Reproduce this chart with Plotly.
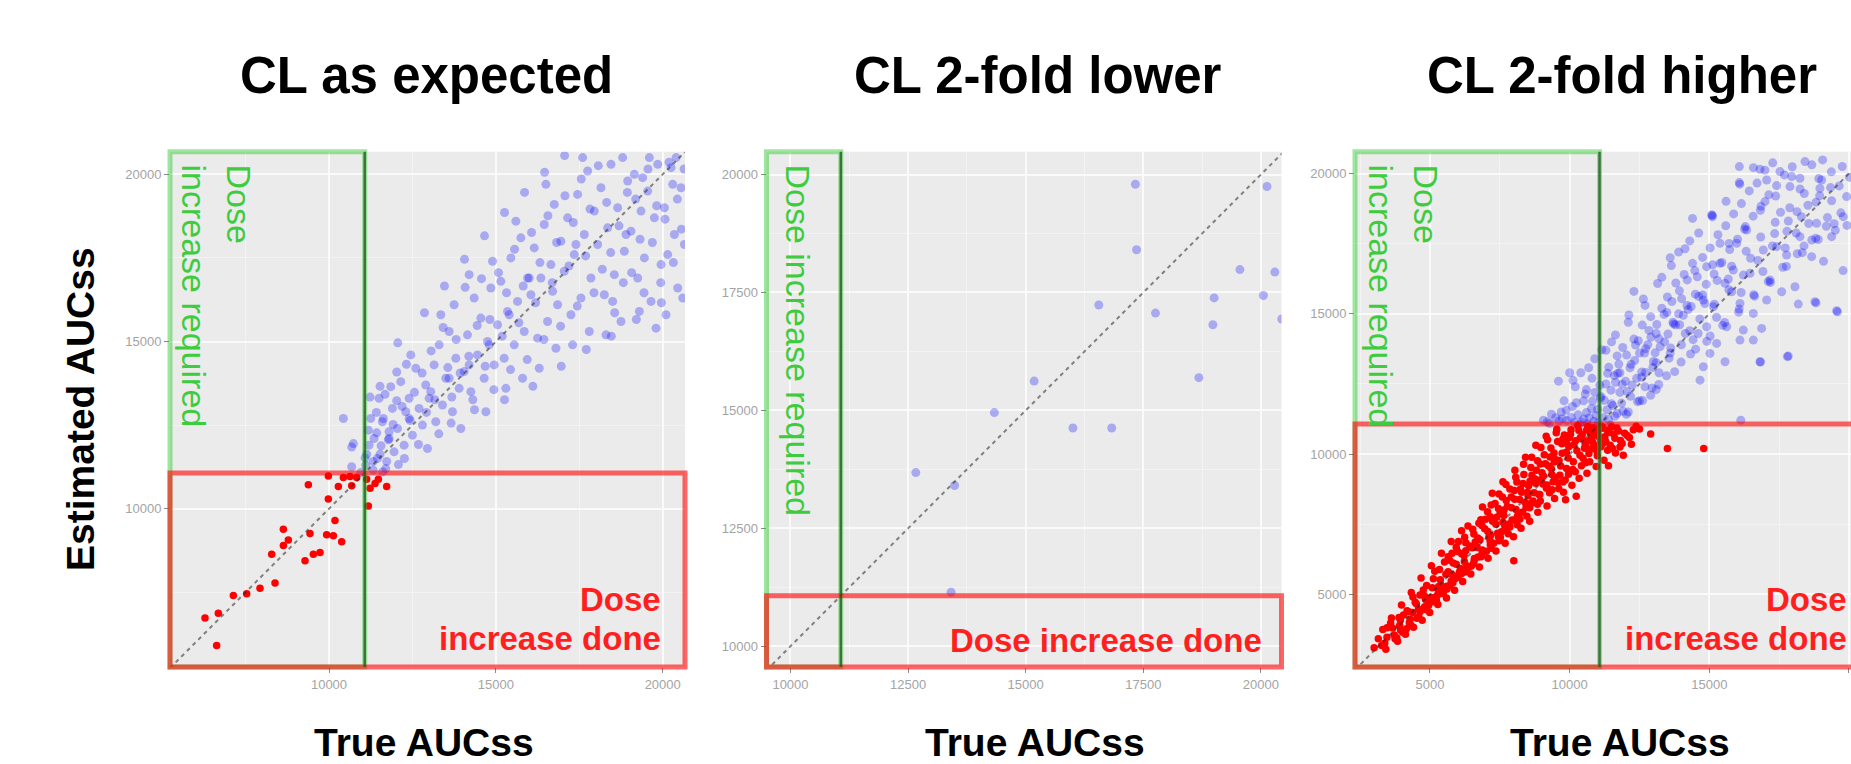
import plotly.graph_objects as go

W, H = 1851, 764
THRESHOLD = 11070

# ---------------- data ----------------
# Panel 1: CL as expected -- (true AUCss, estimated AUCss)
p1_red_points = [
    (9980, 10980), (9381, 10719), (10430, 10933), (10630, 10965), (10830, 10933), (10280, 10666), (10680, 10687),
    (11129, 10880), (11229, 10612), (11379, 10751), (11479, 10880), (11728, 10666), (11179, 10078), (9980, 10292),
    (10180, 9650), (8632, 9383), (9431, 9255), (9930, 9223), (10130, 9190), (10380, 9009), (8781, 9062),
    (8632, 8902), (8282, 8635), (9730, 8688), (9531, 8635), (9281, 8442), (8382, 7779), (7932, 7619),
    (7533, 7459), (7133, 7405), (6683, 6871), (6284, 6732), (6633, 5909)]
p1_blue_points = [
    (10430, 12697), (10680, 11842), (11229, 13338), (11529, 13659), (12029, 14087), (11629, 12697), (11429, 12269),
    (10730, 11948), (11129, 11628), (11529, 11628), (11729, 11414), (11329, 11414), (10680, 11254), (12029, 13231),
    (11100, 11300), (11200, 11900), (11350, 12100), (11450, 11500), (11600, 12600), (11700, 11200), (11800, 12300),
    (11900, 13000), (11950, 11700), (11250, 12700), (11500, 13300), (11850, 13650), (12050, 12400), (12150, 13800),
    (12250, 11900), (12300, 12900), (12400, 13300), (12500, 12200), (12600, 14200), (12700, 13000), (12800, 12500),
    (12900, 13700), (12450, 14600), (12950, 11800), (13050, 13500), (13150, 14300), (13200, 12600), (13300, 14900),
    (13400, 13100), (13500, 13900), (13600, 15300), (13700, 12900), (13800, 14500), (13900, 13600), (13350, 15800),
    (13750, 16100), (13950, 12400), (14050, 14100), (14150, 15200), (14250, 13500), (14350, 16300), (14450, 14600),
    (14550, 15700), (14650, 13900), (14750, 15000), (14850, 16600), (14950, 14300), (14200, 17000), (14700, 12900),
    (14900, 17400), (15050, 15500), (15150, 16800), (15250, 14500), (15350, 15900), (15450, 17500), (15550, 14900),
    (15650, 16200), (15750, 18100), (15850, 15300), (15950, 16900), (15300, 13600), (15800, 13900), (15600, 18600),
    (16050, 16400), (16150, 17800), (16250, 15100), (16350, 16900), (16450, 18500), (16550, 15600), (16650, 17300),
    (16750, 19100), (16850, 16100), (16950, 18000), (16300, 14200), (16800, 14800), (16500, 19700), (17050, 17100),
    (17150, 18700), (17250, 15800), (17350, 17600), (17450, 19400), (17550, 16300), (17650, 18200), (17750, 20100),
    (17850, 16900), (17950, 18900), (17300, 14900), (17800, 15300), (17600, 20500), (18050, 17900), (18150, 19600),
    (18250, 16400), (18350, 18400), (18450, 20300), (18550, 17000), (18650, 19000), (18750, 15600), (18850, 17700),
    (18950, 19800), (18300, 15200), (18800, 20500), (18500, 16200), (19050, 18300), (19150, 20000), (19250, 16900),
    (19350, 18900), (19450, 17500), (19550, 19500), (19650, 16200), (19750, 18700), (19850, 20300), (19950, 17300),
    (19300, 15900), (19800, 15400), (19600, 20500), (20050, 19000), (20150, 17600), (20250, 20200), (20350, 18200),
    (20450, 16600), (20550, 19600), (20650, 17900), (20100, 15800), (20400, 20500), (20600, 16300),
    (10950, 11080), (11080, 11520), (11180, 12350), (11320, 11160), (11420, 12880), (11560, 11880), (11680, 13420),
    (11780, 12060), (11920, 12520), (12080, 11320), (12190, 13060), (12320, 14320), (12430, 12640), (12560, 13480),
    (12680, 11920), (12790, 14060), (12920, 12880), (13060, 14720), (13170, 13260), (13290, 12240), (13420, 15420),
    (13560, 14220), (13680, 13340), (13810, 15060), (13930, 14060), (14080, 16620), (14190, 14560), (14310, 13260),
    (14440, 15480), (14570, 16880), (14680, 14260), (14820, 15660), (14940, 13560), (15080, 17060), (15190, 15160),
    (15320, 16460), (15440, 14160), (15560, 17760), (15690, 15560), (15820, 16660), (15940, 14460), (16070, 18260),
    (16190, 16160), (16320, 17360), (16440, 15060), (16560, 18760), (16690, 16760), (16820, 17960), (16940, 15460),
    (17070, 19360), (17190, 17260), (17320, 18560), (17440, 16060), (17560, 19860), (17690, 17560), (17820, 18960),
    (17940, 16460), (18070, 20260), (18190, 17160), (18320, 19160), (18440, 17660), (18560, 15860), (18690, 18460),
    (18820, 16760), (18940, 19460), (19070, 17060), (19190, 19260), (19320, 18060), (19440, 16460), (19560, 20160),
    (19690, 17960), (19820, 19060), (19940, 16760), (20070, 18660), (20190, 20360), (20320, 17360), (20440, 19260),
    (20560, 18360), (20640, 20160), (15260, 13260), (16110, 13660), (16960, 14260), (17710, 14760), (18460, 15160),
    (19210, 15660), (19960, 16160), (13660, 12560), (14360, 12960), (12060, 14960), (12860, 15860), (13460, 16660),
    (14060, 17460), (14660, 18160), (15260, 18860), (15860, 19460), (16460, 20060), (17060, 20560), (11610, 11100),
    (12260, 11500), (18900, 18200), (19400, 19900), (20300, 19700), (17400, 17900), (16700, 16500), (16000, 16900),
    (15400, 15800), (14800, 14900), (14200, 14300), (13600, 13900), (13000, 13300), (12400, 12700), (11800, 12100)]

# Panel 2: CL 2-fold lower
p2_blue_points = [
    (12664, 13682), (13488, 13408), (13414, 11147), (14334, 14954), (15180, 15621), (16004, 14627), (16829, 14627),
    (16554, 17236), (17332, 19796), (17357, 18406), (17759, 17063), (18681, 15695), (19006, 17385), (18979, 16815),
    (19554, 17985), (20053, 17437), (20129, 19747), (20296, 17933), (20444, 16939)]

# Panel 3: CL 2-fold higher
p3_red_points = [
    (3000, 3100), (3150, 3420), (3380, 3260), (3460, 3810), (3720, 3550), (3890, 4180), (3950, 3720), (4180, 4420),
    (4260, 3990), (4470, 4720), (4530, 4150), (4640, 4980), (4810, 4560), (4880, 5320), (5040, 4890), (5120, 5560),
    (5260, 5210), (5340, 5890), (5480, 5060), (5570, 5720), (5650, 6340), (5760, 5480), (5830, 6120), (5940, 6680),
    (6050, 5790), (6130, 6450), (6240, 7040), (6310, 6020), (6420, 6730), (6530, 7320), (6590, 6280), (6710, 7010),
    (6820, 7660), (6870, 6580), (6960, 7340), (7060, 7950), (7150, 6910), (7240, 7610), (7330, 8240), (7420, 7180),
    (7510, 7890), (7590, 8470), (7680, 7420), (7770, 8130), (7860, 8760), (7940, 7650), (8030, 8390), (8110, 9010),
    (8190, 7880), (8280, 8640), (8360, 9270), (8440, 8110), (8530, 8870), (8610, 9520), (8690, 8330), (8770, 9110),
    (8850, 9760), (8930, 8560), (9010, 9340), (9090, 9980), (9170, 8780), (9250, 9580), (9330, 10220), (9410, 9020),
    (9490, 9810), (9570, 10450), (9650, 9250), (9730, 10030), (9810, 10680), (9890, 9490), (9970, 10260),
    (10050, 10870), (10130, 9730), (10210, 10480), (10290, 11010), (10370, 9960), (10450, 10690), (10530, 10210),
    (10610, 10860), (10690, 10020), (10770, 10560), (10850, 10940), (10930, 10280), (11010, 10730), (11090, 10410),
    (11170, 10980), (11260, 10620), (11340, 10850), (11450, 10320), (11580, 10710), (11690, 10930), (11820, 10490),
    (12060, 10660), (12280, 10870), (12210, 10350), (11920, 9960), (11640, 10040), (11230, 9780), (10950, 9560),
    (10620, 9320), (10340, 9140), (10080, 8890), (9780, 8640), (9460, 8420), (9190, 8150), (8860, 7930), (8570, 7610),
    (8260, 7360), (7990, 7060), (7690, 6820), (7360, 6550), (7080, 6290), (6770, 5980), (6460, 5730), (6170, 5460),
    (5880, 5150), (5590, 4870), (5280, 4640), (4990, 4360), (4720, 4080), (4410, 3830), (4120, 3580), (3840, 3330),
    (6880, 8120), (7230, 8610), (7610, 9020), (8040, 9430), (8420, 9890), (8790, 10320), (9160, 10640), (9540, 10890),
    (6130, 7270), (5760, 6890), (5410, 6470), (5050, 6020), (4680, 5590), (4330, 5070), (3980, 4620), (3620, 4160),
    (3310, 3750), (9880, 10070), (10150, 10330), (10420, 10560), (9620, 9770), (9340, 9480), (9060, 9220),
    (8780, 8960), (8490, 8640), (8210, 8380), (7920, 8090), (7640, 7810), (7360, 7500), (7070, 7240), (6790, 6950),
    (6510, 6660), (6220, 6380), (5940, 6080), (5650, 5810), (5370, 5520), (5080, 5240), (4800, 4950), (4510, 4670),
    (4230, 4380), (3940, 4090), (3660, 3800), (11360, 10140), (11120, 10260), (10860, 10660), (10580, 10470),
    (10730, 10770), (11030, 10880), (11500, 10980), (9990, 10590), (9720, 10370), (9300, 9900), (8950, 9650),
    (8650, 9250), (8330, 8950), (8020, 8700), (7730, 8350), (7450, 8060), (7160, 7770), (6860, 7460), (6570, 7150),
    (6280, 6840), (5990, 6530), (5700, 6220), (9460, 9180), (9190, 8900), (8900, 8560), (8610, 8240), (8320, 7940),
    (8030, 7650), (7740, 7350), (7450, 7060), (7160, 6770), (6870, 6480), (6580, 6190), (6290, 5900), (6000, 5610),
    (5710, 5320), (5420, 5030), (5130, 4740), (12500, 10900), (13500, 10200), (14800, 10200), (8000, 6200),
    (9852, 8372), (10236, 8500), (11389, 9584), (12900, 10720), (11800, 10250),
    (3420, 3050), (3590, 3980), (3810, 3460), (4050, 4270), (4160, 3780), (4390, 4910), (4590, 4470), (4760, 5160),
    (4950, 4610), (5170, 5830), (5230, 4790), (5390, 5340), (5520, 6160), (5610, 5190), (5790, 6470), (5870, 5650),
    (6020, 6890), (6090, 5920), (6280, 6560), (6360, 7440), (6480, 6010), (6620, 6870), (6750, 7540), (6830, 6340),
    (6990, 7680), (7110, 7050), (7190, 8190), (7280, 6820), (7390, 7750), (7470, 8580), (7560, 7230), (7650, 8010),
    (7720, 8920), (7830, 7510), (7910, 8470), (8070, 9180), (8130, 7790), (8240, 8760), (8350, 9640), (8410, 8280),
    (8580, 9030), (8640, 9890), (8730, 8620), (8810, 9430), (8970, 10240), (9040, 8940), (9130, 9660), (9210, 10510),
    (9360, 9270), (9440, 10040), (9520, 10760), (9590, 8980), (9680, 9580), (9760, 10540), (9840, 9080), (9950, 9860),
    (10030, 10710), (10110, 9450), (10260, 10120), (10330, 10840), (10480, 9850), (10560, 10350), (10650, 10990),
    (10720, 9730), (10820, 10430), (10890, 10870), (10970, 10120), (11060, 10610), (11150, 10920), (11290, 10450),
    (11410, 10780), (11530, 10210), (11620, 10570), (11750, 10820), (11880, 10380), (12140, 10590), (12380, 10990),
    (11970, 10740), (10380, 10580), (9900, 10380), (9450, 9720), (8990, 9100), (8510, 8520), (8080, 8030),
    (7610, 7570), (7170, 7110), (6690, 6670), (6230, 6170), (5770, 5720), (5310, 5280), (4840, 4830), (4380, 4360),
    (3910, 3890), (3460, 3470), (10760, 10190), (10420, 9590), (9960, 9280), (9610, 8770), (9280, 8620), (8850, 8210),
    (8470, 7790), (8120, 7480), (7800, 7160), (7480, 6910), (7020, 6540), (6720, 6330), (6400, 5980), (6120, 5740),
    (5820, 5420), (5490, 5150), (5190, 4900), (4870, 4450), (4600, 4210), (4310, 3910), (4020, 3650), (3750, 3420),
    (3270, 3180), (11180, 10380), (10990, 9940), (10570, 9690), (10200, 9370), (9760, 9010), (9370, 8730),
    (8950, 8330), (8570, 8090), (8220, 7690), (7860, 7400), (7520, 7030), (7190, 6650), (6850, 6390), (6560, 6090),
    (6250, 5800), (5910, 5570), (5610, 5290), (5270, 4980), (4960, 4700), (4650, 4390), (4290, 4120)]
p3_blue_points = [
    (9200, 11150), (9500, 11300), (9700, 11500), (9900, 11200), (10100, 11700), (10300, 11400), (10500, 11900),
    (10700, 11300), (10900, 12200), (9800, 11900), (9600, 12600), (10200, 12400), (10400, 12900), (10600, 12300),
    (10800, 12700), (11000, 11600), (11100, 12000), (11200, 11300), (11300, 12500), (11400, 13100), (11500, 11800),
    (11600, 12800), (11700, 13500), (11800, 12200), (11900, 13800), (12000, 12600), (12100, 11500), (12200, 13200),
    (12300, 14100), (12400, 12700), (12500, 13600), (12600, 14600), (12700, 12400), (12800, 13900), (12900, 14900),
    (13000, 13300), (13100, 14300), (13200, 12900), (13300, 15200), (13400, 14000), (13500, 15600), (13600, 13600),
    (13700, 14700), (13800, 16100), (13900, 15000), (14000, 13900), (14100, 16400), (14200, 15300), (14300, 14400),
    (14400, 16800), (14500, 15700), (14600, 14300), (11500, 14000), (10900, 13400), (12100, 14700), (12700, 15300),
    (13300, 16300), (13900, 17200), (14300, 17600), (12300, 15800), (11800, 12900), (12500, 11900), (13100, 12300),
    (10000, 12900), (11300, 13700), (14400, 18400), (13600, 17000), (10500, 11250), (11700, 11450), (12900, 12100),
    (16075, 20247), (16814, 20152), (17530, 20069), (18425, 20425), (19057, 20485), (16075, 19676), (16993, 18999),
    (17053, 19771), (17888, 19534), (18246, 19831), (19021, 19771), (19916, 19177), (15085, 18523), (19797, 18464),
    (18843, 18226), (19379, 17750), (18664, 17037), (16337, 17988), (15383, 17512), (15980, 17512), (17411, 17393),
    (17769, 17096), (18246, 17750), (16933, 17274), (14905, 16680), (15383, 16799), (15860, 16561), (16456, 16442),
    (17172, 16204), (17590, 15788), (18067, 15966), (18783, 15432), (18186, 15348), (19558, 15110), (17053, 15491),
    (16576, 15015), (16098, 15372), (15562, 16086), (15800, 15788), (15144, 15253), (14786, 15491), (14905, 14540),
    (15621, 14540), (16218, 14421), (16874, 14480), (16098, 14064), (16576, 14064), (15264, 13945), (15025, 13589),
    (15562, 13291), (16814, 13291), (17828, 13494), (14786, 13113), (14667, 12637), (16128, 11210), (17794, 13476),
    (16833, 13285), (19587, 15072), (15104, 18516), (18819, 15390),
    (9350, 11420), (9620, 11180), (9880, 11560), (10060, 11310), (10240, 11830), (10420, 11140), (10560, 12140),
    (10780, 11620), (10950, 11380), (11080, 12460), (11240, 11920), (11360, 12880), (11480, 12280), (11620, 11350),
    (11760, 13210), (11880, 12490), (12040, 13530), (12180, 12060), (12330, 13340), (12460, 14040), (12580, 12930),
    (12720, 13760), (12840, 14410), (12980, 13090), (13120, 14620), (13240, 13830), (13380, 14980), (13520, 14280),
    (13660, 15440), (13790, 14610), (13930, 15820), (14070, 14950), (14210, 16210), (14350, 15260), (14480, 16540),
    (14620, 15620), (14760, 17010), (14890, 16050), (15030, 17350), (15170, 16420), (15310, 17820), (15450, 16830),
    (15590, 18140), (15730, 17290), (15870, 18560), (16010, 17660), (16150, 18930), (16290, 18110), (16430, 19380),
    (16570, 18480), (16710, 19660), (16850, 18830), (16990, 20120), (17130, 19240), (17270, 20380), (17410, 19570),
    (17550, 18620), (17690, 19950), (17830, 18310), (17970, 20240), (18110, 17880), (18250, 19450), (18390, 17420),
    (18530, 18870), (18670, 20310), (18810, 17690), (18950, 19210), (19090, 16870), (19230, 18430), (19370, 20060),
    (19510, 17980), (19650, 19560), (19790, 16540), (19930, 18150), (20020, 19870), (10120, 12630), (10680, 13080),
    (11150, 13720), (11640, 14250), (12120, 14960), (12640, 15530), (13150, 16080), (13640, 16720), (14130, 17320),
    (14620, 17880), (15110, 18460), (15600, 19010), (16090, 19620), (16580, 20210), (10350, 11060), (10870, 11170),
    (11390, 11240), (11910, 11530), (12430, 11870), (12950, 12360), (13470, 12790), (13990, 13280), (14510, 13740),
    (15030, 14210), (15550, 14690), (16070, 15170), (16590, 15680), (17110, 16150), (17630, 16660), (18150, 17140),
    (18670, 17630), (19190, 18120), (19710, 18600), (11020, 11120), (11540, 11730), (12060, 12230), (12580, 12740),
    (13100, 13260), (13620, 13780), (14140, 14300), (14660, 14820), (15180, 15340), (15700, 15860), (16220, 16380),
    (16740, 16900), (17260, 17420), (17780, 17940), (18300, 18460), (18820, 18980), (19340, 19500), (10600, 11480),
    (11120, 12050), (11640, 12560), (12160, 13080), (12680, 13600), (13200, 14110), (13720, 14640), (14240, 15150),
    (14760, 15670), (15280, 16190), (15800, 16700), (16320, 17230), (16840, 17740), (17360, 18260), (17880, 18780),
    (18400, 19290), (18920, 19820),
    (9060, 11210), (9280, 11090), (9740, 11260), (10170, 11140), (10630, 11070), (10820, 11890), (11340, 11580),
    (11860, 11820), (12240, 12460), (12720, 12910), (13060, 13610), (13560, 13420), (13940, 14610), (14420, 14080),
    (14840, 15370), (15260, 14880), (15680, 16240), (16140, 15760), (16480, 16980), (16920, 16510), (17340, 17860),
    (17720, 17350), (18140, 18640), (18560, 18220), (18960, 19470), (19380, 19030), (19760, 20250), (11720, 12880),
    (12360, 13890), (12910, 14170), (13480, 15050), (14010, 15540), (14570, 16320), (15120, 16750), (15710, 17510),
    (16260, 18020), (16830, 18690), (17380, 19200), (17950, 19890), (11460, 11040), (12030, 11420), (12610, 11910),
    (13190, 12480), (13760, 12940), (14330, 13570), (14910, 14020), (15480, 14590), (16050, 15060), (16620, 15630),
    (17190, 16120), (17760, 16690), (18330, 17180), (18900, 17650), (19470, 18210)]

titles = ["CL as expected", "CL 2-fold lower", "CL 2-fold higher"]
x_title = "True AUCss"
y_title = "Estimated AUCss"
green_texts = ["Dose<br>increase required", "Dose increase required", "Dose<br>increase required"]
red_text_lines = [["Dose", "increase done"], ["Dose increase done"], ["Dose", "increase done"]]

# axis ranges and tick steps
ranges = [
    dict(x=[5235, 20668], y=[5266, 20677], dtick=5000, minor=2500, xfull=20668),
    dict(x=[9490, 20438], y=[9560, 20485], dtick=2500, minor=1250, xfull=20438),
    dict(x=[2315, 20073], y=[2414, 20778], dtick=5000, minor=2500, xfull=20754),
]
# panel pixel geometry (left, right, top, bottom)
panels_px = [(170, 685, 151.7, 667), (766.5, 1281.5, 151.7, 667), (1355, 1851, 151.7, 667)]


def px_x(p):
    return p / W


def px_y(p):
    return 1 - p / H


def split(points):
    return [p[0] for p in points], [p[1] for p in points]


fig = go.Figure()

FONT = "Liberation Sans, Arial, sans-serif"
BLUE = "rgba(0,0,255,0.28)"
RED = "rgba(255,0,0,1)"

series = [(p1_blue_points, p1_red_points), (p2_blue_points, []), (p3_blue_points, p3_red_points)]

layout_axes = {}
shapes = []
annotations = []
for i, (blue_pts, red_pts) in enumerate(series):
    n = i + 1
    xa = "x" if n == 1 else f"x{n}"
    ya = "y" if n == 1 else f"y{n}"
    r = ranges[i]
    bx, by = split(blue_pts)
    fig.add_trace(go.Scatter(x=bx, y=by, mode="markers", xaxis=xa, yaxis=ya, showlegend=False,
                             marker=dict(size=9, color=BLUE, line=dict(width=0)), cliponaxis=True))
    if red_pts:
        rx, ry = split(red_pts)
        fig.add_trace(go.Scatter(x=rx, y=ry, mode="markers", xaxis=xa, yaxis=ya, showlegend=False,
                                 marker=dict(size=7.5, color=RED, line=dict(width=0)), cliponaxis=True))
    lo = min(r["x"][0], r["y"][0])
    hi = max(r["xfull"], r["y"][1])
    fig.add_trace(go.Scatter(x=[lo, hi], y=[lo, hi], mode="lines", xaxis=xa, yaxis=ya, showlegend=False,
                             line=dict(color="rgba(40,40,40,0.55)", width=2, dash="4px,4px"),
                             hoverinfo="skip"))

    L, R, T, B = panels_px[i]
    common = dict(showgrid=True, gridcolor="#FAFAFA", gridwidth=1.6, zeroline=False, showline=False,
                  ticks="outside", ticklen=5, tickwidth=1.2, tickcolor="#8a8a8a",
                  tickfont=dict(family=FONT, size=13, color="#a4a4a4"), tickformat="d",
                  tickmode="linear", tick0=0, dtick=r["dtick"], fixedrange=True,
                  minor=dict(showgrid=True, gridcolor="#F3F3F3", gridwidth=1, dtick=r["minor"], tick0=0,
                             ticks=""))
    layout_axes["xaxis" if n == 1 else f"xaxis{n}"] = dict(
        common, domain=[px_x(L), px_x(R)], range=r["x"], anchor=ya)
    layout_axes["yaxis" if n == 1 else f"yaxis{n}"] = dict(
        common, domain=[px_y(B), px_y(T)], range=r["y"], anchor=xa)

    xd = f"{xa} domain"
    yd = f"{ya} domain"
    fx = (THRESHOLD - r["x"][0]) / (r["x"][1] - r["x"][0])
    fy = (THRESHOLD - r["y"][0]) / (r["y"][1] - r["y"][0])
    fxr = (r["xfull"] - r["x"][0]) / (r["x"][1] - r["x"][0])
    # green zone (dose increase required)
    shapes.append(dict(type="rect", xref=xd, yref=yd, x0=0, x1=fx, y0=0, y1=1,
                       line=dict(color="rgba(40,200,40,0.45)", width=5), fillcolor="rgba(0,0,0,0)",
                       layer="above"))
    # red zone (dose increase done)
    shapes.append(dict(type="rect", xref=xd, yref=yd, x0=0, x1=fxr, y0=0, y1=fy,
                       line=dict(color="rgba(255,0,0,0.6)", width=5), fillcolor="rgba(0,0,0,0)",
                       layer="above"))
    # threshold vertical line
    shapes.append(dict(type="line", xref=xd, yref=yd, x0=fx, x1=fx, y0=0, y1=1,
                       line=dict(color="rgba(30,80,30,0.75)", width=2.5), layer="above"))

# titles
title_cx = [426, 1038, 1622]
xtitle_cx = [424, 1035, 1620]
for i in range(3):
    annotations.append(dict(text=f"<b>{titles[i]}</b>", xref="paper", yref="paper", x=px_x(title_cx[i]),
                            y=px_y(76), xanchor="center", yanchor="middle", showarrow=False,
                            font=dict(family=FONT, size=51, color="#000000")))
    annotations.append(dict(text=f"<b>{x_title}</b>", xref="paper", yref="paper", x=px_x(xtitle_cx[i]),
                            y=px_y(742), xanchor="center", yanchor="middle", showarrow=False,
                            font=dict(family=FONT, size=39, color="#000000")))
annotations.append(dict(text=f"<b>{y_title}</b>", xref="paper", yref="paper", x=px_x(80), y=px_y(409),
                        xanchor="center", yanchor="middle", textangle=-90, showarrow=False,
                        font=dict(family=FONT, size=39, color="#000000")))

# zone labels
green_cx = [217, 797.5, 1404]
red_right = [662, 1263, 1848]
red_line_cy = [[599, 638], [640], [599, 638]]
for i in range(3):
    annotations.append(dict(text=green_texts[i], xref="paper", yref="paper", x=px_x(green_cx[i]),
                            y=px_y(163), xanchor="center", yanchor="top", textangle=90, align="left",
                            showarrow=False, borderpad=0,
                            font=dict(family=FONT, size=34, color="#3DCC3D")))
    for line, cy in zip(red_text_lines[i], red_line_cy[i]):
        annotations.append(dict(text=f"<b>{line}</b>", xref="paper", yref="paper", x=px_x(red_right[i]),
                                y=px_y(cy), xanchor="right", yanchor="middle", align="right",
                                showarrow=False, borderpad=0,
                                font=dict(family=FONT, size=33, color="#FF1F1F")))

fig.update_layout(width=W, height=H, autosize=False, margin=dict(l=0, r=0, t=0, b=0),
                  paper_bgcolor="#FFFFFF", plot_bgcolor="#EBEBEB", showlegend=False,
                  shapes=shapes, annotations=annotations, **layout_axes)

fig.write_html("out.html", config=dict(displayModeBar=False),
               post_script="document.body.style.margin='0';document.body.style.overflow='hidden';")
